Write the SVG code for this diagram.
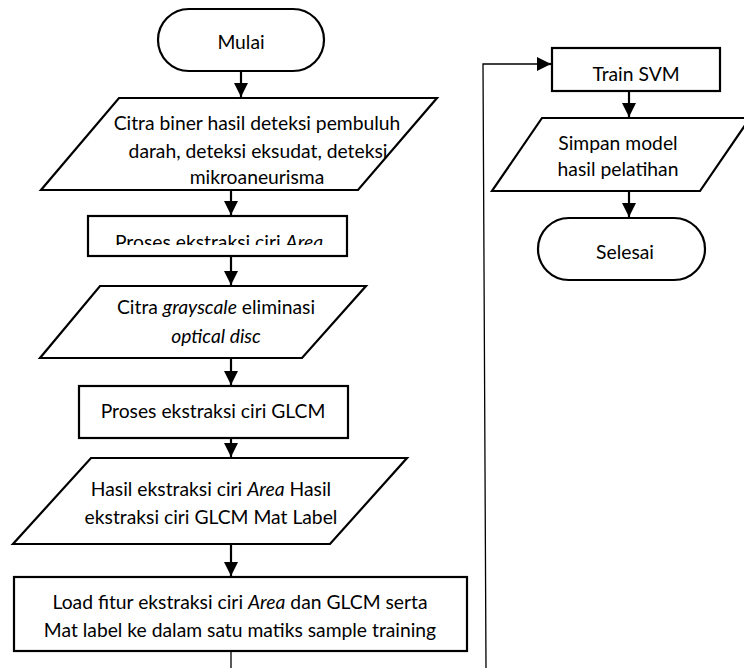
<svg xmlns="http://www.w3.org/2000/svg" width="744" height="668" viewBox="0 0 744 668">
<defs>
<marker id="ah" markerUnits="userSpaceOnUse" markerWidth="16" markerHeight="16" refX="14" refY="7" orient="auto">
<path d="M0,0 L14,7 L0,14 Z" fill="#000"/>
</marker>
<clipPath id="clip1"><rect x="88" y="216" width="260" height="29"/></clipPath>
</defs>
<style>
.s{fill:#fff;stroke:#000;stroke-width:2.2}
.t{font-family:Lato,"Liberation Sans",sans-serif;font-size:19.3px;fill:#000;text-anchor:middle}
.c{stroke:#000;stroke-width:2.2;fill:none}
.thin{stroke:#000;stroke-width:1.3;fill:none}
</style>
<rect width="744" height="668" fill="#fff"/>
<g id="connectors">
<line class="c" x1="241" y1="71" x2="241" y2="97" marker-end="url(#ah)"/>
<line class="c" x1="231" y1="191" x2="231" y2="215" marker-end="url(#ah)"/>
<line class="c" x1="231" y1="257" x2="231" y2="285" marker-end="url(#ah)"/>
<line class="c" x1="231" y1="359" x2="231" y2="385" marker-end="url(#ah)"/>
<line class="c" x1="231" y1="439" x2="231" y2="457" marker-end="url(#ah)"/>
<line class="c" x1="231" y1="545" x2="231" y2="576" marker-end="url(#ah)"/>
<line class="thin" x1="231" y1="652" x2="231" y2="668"/>
<path class="thin" d="M486,668 L483,64 L538,64"/>
<line class="c" x1="537" y1="64" x2="551" y2="64" marker-end="url(#ah)"/>
<line class="c" x1="629" y1="92" x2="629" y2="117" marker-end="url(#ah)"/>
<line class="c" x1="629" y1="192" x2="629" y2="217" marker-end="url(#ah)"/>
</g>
<g id="mulai">
<rect class="s" x="158" y="9" width="166" height="62" rx="31" ry="31"/>
<text class="t" x="241" y="49">Mulai</text>
</g>
<g id="input1">
<polygon class="s" points="119,98 437,98 358,190 41,190"/>
<text class="t" x="257" y="130">Citra biner hasil deteksi pembuluh</text>
<text class="t" x="258" y="158">darah, deteksi eksudat, deteksi</text>
<text class="t" x="257" y="184">mikroaneurisma</text>
</g>
<g id="proses-area">
<rect class="s" x="88" y="216" width="259" height="40"/>
<text class="t" x="219" y="249" clip-path="url(#clip1)">Proses ekstraksi ciri <tspan font-style="italic">Area</tspan></text>
</g>
<g id="input2">
<polygon class="s" points="100,286 366,286 302,358 40,358"/>
<text class="t" x="216" y="314">Citra <tspan font-style="italic">grayscale</tspan> eliminasi</text>
<text class="t" x="216" y="343" font-style="italic">optical disc</text>
</g>
<g id="proses-glcm">
<rect class="s" x="79" y="386" width="269" height="52"/>
<text class="t" x="213" y="418">Proses ekstraksi ciri GLCM</text>
</g>
<g id="hasil">
<polygon class="s" points="91,458 407,458 330,544 13,544"/>
<text class="t" x="211" y="496">Hasil ekstraksi ciri <tspan font-style="italic">Area</tspan> Hasil</text>
<text class="t" x="211" y="524">ekstraksi ciri GLCM Mat Label</text>
</g>
<g id="load">
<rect class="s" x="14" y="577" width="453" height="74"/>
<text class="t" x="240" y="609">Load fitur ekstraksi ciri <tspan font-style="italic">Area</tspan> dan GLCM serta</text>
<text class="t" x="240" y="637">Mat label ke dalam satu matiks sample training</text>
</g>
<g id="train">
<rect class="s" x="552" y="48" width="168" height="43"/>
<text class="t" x="636" y="81">Train SVM</text>
</g>
<g id="simpan">
<polygon class="s" points="542,118 750,118 700,191 492,191"/>
<text class="t" x="618" y="150">Simpan model</text>
<text class="t" x="618" y="176">hasil pelatihan</text>
</g>
<g id="selesai">
<rect class="s" x="538" y="218" width="167" height="62" rx="31" ry="31"/>
<text class="t" x="625" y="259">Selesai</text>
</g>
</svg>
